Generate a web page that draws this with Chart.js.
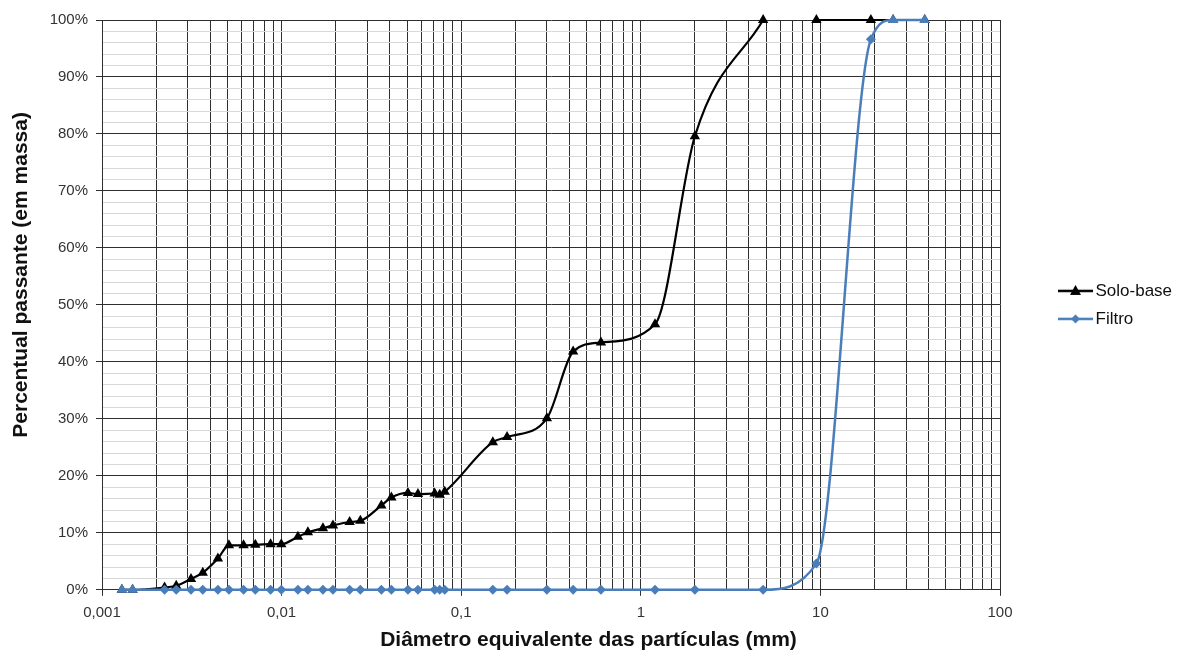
<!DOCTYPE html>
<html><head><meta charset="utf-8">
<script src="https://cdn.jsdelivr.net/npm/chart.js@4.4.1/dist/chart.umd.min.js"></script>
<style>html,body{margin:0;padding:0;background:#fff;} #wrap{width:1177px;height:653px;position:relative;} canvas{display:block;}</style>
</head><body><div id="wrap"><canvas id="c" width="1177" height="653" style="width:1177px;height:653px"></canvas></div>
<script>
// Diameters (mm) shared by both series
const diameters = [0.00129,0.00148,0.00223,0.00259,0.00313,0.00364,0.00442,0.00509,0.00614,0.00714,0.00868,0.00996,
  0.01233,0.01401,0.01699,0.01932,0.02392,0.02744,0.03593,0.04085,0.05052,0.05744,0.07118,0.07591,0.08093,
  0.15,0.18,0.30,0.42,0.60,1.2,2.0,4.8,9.5,19.1,25.4,38.1];
// Percent passing
const soloBase = [0,0,0.4,0.7,1.9,3.0,5.5,7.8,7.8,7.9,8.0,8.0,
  9.3,10.1,10.8,11.3,11.9,12.1,14.8,16.2,17.0,16.8,16.9,16.7,17.2,
  25.9,26.8,30.1,41.8,43.4,46.6,79.6,100,100,100,100,100];
const filtro = [0,0,0,0,0,0,0,0,0,0,0,0,
  0,0,0,0,0,0,0,0,0,0,0,0,0,
  0,0,0,0,0,0,0,0,4.6,96.6,100,100];
const soloBreakAfter = 4.8;            // Solo-base line is not drawn between 4.8 and 9.5 mm
const xDecades = [0.001,0.01,0.1,1,10,100];
const xTickLabels = ['0,001','0,01','0,1','1','10','100'];
const yMajor = [0,10,20,30,40,50,60,70,80,90,100];
const yTickLabels = ['0%','10%','20%','30%','40%','50%','60%','70%','80%','90%','100%'];
const seriesNames = ['Solo-base','Filtro'];

const FONT = "'Liberation Sans', Arial, sans-serif";
const BLUE = '#4a7ebb';
const GRID = '#2e2e2e';

const soloData = [];
diameters.forEach((d,i)=>{
  soloData.push({x:d,y:soloBase[i]});
  if (d === soloBreakAfter) soloData.push({x:Math.sqrt(d*diameters[i+1]),y:null});
});
const filtroData = diameters.map((d,i)=>({x:d,y:filtro[i]}));
const filtroStyles = diameters.map((d,i)=> (filtro[i] === soloBase[i] && (i<2 || i>=diameters.length-2)) ? 'triangle' : 'rectRot');
const filtroRadius = filtroStyles.map(s => s==='triangle'?6:5);

function legendImg(color, style){
  const cv = document.createElement('canvas');
  cv.width = 160; cv.height = 16;
  const g = cv.getContext('2d');
  g.strokeStyle = color; g.lineWidth = 2.5;
  g.beginPath(); g.moveTo(89,8); g.lineTo(124,8); g.stroke();
  g.fillStyle = color;
  g.beginPath();
  const cx = 106.5, cy = 8;
  if (style === 'triangle'){ g.moveTo(cx,cy-6); g.lineTo(cx+5.5,cy+4); g.lineTo(cx-5.5,cy+4); }
  else { g.moveTo(cx,cy-4.5); g.lineTo(cx+4.5,cy); g.lineTo(cx,cy+4.5); g.lineTo(cx-4.5,cy); }
  g.closePath(); g.fill();
  return cv;
}
const legendImgs = [legendImg('#000','triangle'), legendImg(BLUE,'diamond')];

const xGrid = [];
xDecades.forEach((d,k)=>{
  if (k === xDecades.length-1) { xGrid.push(d); return; }
  for (let m=1;m<=9;m++) xGrid.push(Number((m*d).toPrecision(3)));
});
const yGrid = [];
for (let v=0; v<=100; v+=2) yGrid.push(v);

// shift the y-axis title upward (as in the reference layout)
const yTitleShift = {
  id:'yTitleShift',
  afterLayout(chart){
    const s = chart.scales.y;
    if (s && !s._shifted){
      const orig = s.drawTitle;
      s.drawTitle = function(){ const c = this.ctx; c.save(); c.translate(0,-30); orig.apply(this, arguments); c.restore(); };
      s._shifted = true;
    }
  }
};

new Chart(document.getElementById('c'), {
  type: 'line',
  plugins:[yTitleShift],
  data: {
    datasets: [
      { label: seriesNames[0], data: soloData, borderColor:'#000', backgroundColor:'#000', borderWidth:2.2,
        pointStyle:'triangle', pointRadius:6, pointBackgroundColor:'#000', pointBorderColor:'#000', pointBorderWidth:0,
        cubicInterpolationMode:'monotone', spanGaps:false, clip:false, order:1 },
      { label: seriesNames[1], data: filtroData, borderColor:BLUE, backgroundColor:BLUE, borderWidth:2.5,
        pointStyle:filtroStyles, pointRadius:filtroRadius, pointBackgroundColor:BLUE, pointBorderColor:BLUE, pointBorderWidth:0,
        cubicInterpolationMode:'monotone', clip:false, order:0 }
    ]
  },
  options: {
    responsive:false, maintainAspectRatio:false, animation:false, devicePixelRatio:1,
    layout:{ padding:{ top:20, left:0, right:0, bottom:0 } },
    plugins:{
      tooltip:{enabled:false},
      title:{ display:true, position:'bottom', text:'Diâmetro equivalente das partículas (mm)',
        color:'#111', font:{family:FONT, size:21, weight:'bold'}, padding:{top:1, bottom:0} },
      legend:{ position:'right', fullSize:false, maxWidth:177, align:'center',
        labels:{ usePointStyle:true, pointStyleWidth:76, padding:11, color:'#111',
          font:{family:FONT, size:17},
          sort:(a,b)=>a.datasetIndex-b.datasetIndex,
          generateLabels:(chart)=> chart.data.datasets.map((ds,i)=>({
            text: ds.label, datasetIndex:i, fillStyle:ds.borderColor, strokeStyle:ds.borderColor,
            lineWidth:0, hidden:false, pointStyle:legendImgs[i], fontColor:'#111'
          }))
        }
      }
    },
    scales:{
      x:{ type:'logarithmic', min:0.001, max:100, position:'bottom',
        afterBuildTicks:(s)=>{ s.ticks = xGrid.map(v=>({value:v, major: xDecades.includes(v)})); },
        afterFit:(s)=>{ s.height = 37; },
        ticks:{ autoSkip:false, maxRotation:0, minRotation:0, padding:8, color:'#333',
          font:{family:FONT, size:15},
          callback:(v)=>{ const k = xDecades.indexOf(Number(v)); return k>=0 ? xTickLabels[k] : ''; } },
        grid:{ color:GRID, lineWidth:1, tickLength:6,
          tickColor:(c)=> (c.tick && xDecades.includes(c.tick.value)) ? GRID : 'rgba(0,0,0,0)' },
        border:{ color:GRID, width:1 }
      },
      y:{ type:'linear', min:0, max:100,
        afterBuildTicks:(s)=>{ s.ticks = yGrid.map(v=>({value:v})); },
        afterFit:(s)=>{ s.width = 102; },
        ticks:{ autoSkip:false, padding:8, color:'#333', font:{family:FONT, size:15},
          callback:(v)=>{ const k = yMajor.indexOf(Number(v)); return k>=0 ? yTickLabels[k] : ''; } },
        grid:{ lineWidth:1, tickLength:6,
          color:(c)=> (c.tick && c.tick.value % 10 === 0) ? GRID : '#d8d8d8',
          tickColor:(c)=> (c.tick && c.tick.value % 10 === 0) ? GRID : 'rgba(0,0,0,0)' },
        border:{ color:GRID, width:1 },
        title:{ display:true, text:'Percentual passante (em massa)', color:'#111',
          font:{family:FONT, size:21, weight:'bold'}, padding:{top:9, bottom:0} }
      }
    }
  }
});
</script></body></html>
